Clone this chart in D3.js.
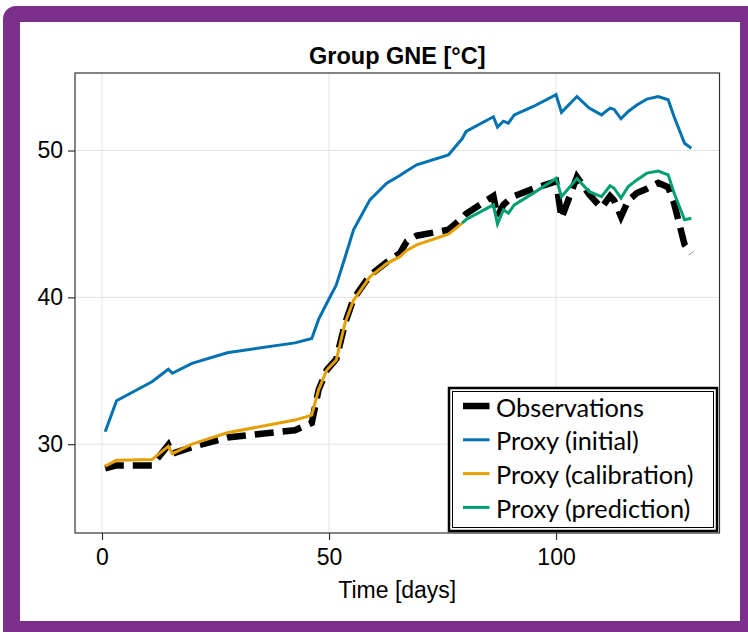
<!DOCTYPE html>
<html>
<head>
<meta charset="utf-8">
<script src="https://cdn.jsdelivr.net/npm/d3@7"></script>
<style>
  html, body { margin: 0; padding: 0; background: #ffffff; }
  svg { display: block; }
</style>
</head>
<body>
<svg id="chart" width="748" height="632"></svg>
<script>
// ---- data ----
const days = [0.7, 3.2, 11.0, 14.6, 15.5, 19.8, 27.6, 42.5, 46.2, 47.7, 49.5, 51.6, 53.5, 55.4, 59.0, 62.7, 65.6, 67.1, 69.3, 76.3, 79.3, 80.2, 86.2, 87.1, 88.4, 89.5, 90.8, 95.0, 100.0, 101.2, 104.6, 107.3, 110.0, 111.9, 112.8, 114.3, 115.9, 117.8, 120.0, 122.5, 124.7, 126.0, 128.3, 129.8];
const observations = [28.35, 28.55, 28.55, 29.95, 29.35, 29.8, 30.45, 30.95, 31.45, 33.7, 35.05, 35.8, 38.2, 39.9, 41.5, 42.4, 43.0, 43.8, 44.2, 44.6, 45.4, 45.7, 46.9, 45.5, 46.3, 46.6, 46.9, 47.4, 47.9, 45.4, 48.2, 47.0, 46.1, 46.9, 46.6, 45.5, 46.6, 47.1, 47.4, 47.8, 47.5, 46.4, 43.6, 43.0];
const proxyInitial = [30.85, 32.96, 34.25, 35.1, 34.83, 35.5, 36.23, 36.9, 37.2, 38.5, 39.6, 40.85, 42.7, 44.6, 46.64, 47.78, 48.3, 48.6, 49.03, 49.7, 50.8, 51.3, 52.3, 51.6, 52.0, 51.87, 52.43, 53.0, 53.8, 52.6, 53.68, 52.89, 52.43, 52.89, 52.8, 52.16, 52.66, 53.1, 53.5, 53.68, 53.46, 52.3, 50.5, 50.16];
const proxyCalibration = [28.5, 28.9, 28.95, 29.85, 29.35, 30.0, 30.78, 31.64, 31.98, 33.7, 35.05, 35.73, 38.23, 39.8, 41.4, 42.3, 42.77, 43.2, 43.57, 44.3, 45.05,
  null, null, null, null, null, null, null, null, null, null, null, null, null, null, null, null, null, null, null, null, null, null, null];
const proxyPrediction = [null, null, null, null, null, null, null, null, null, null, null, null, null, null, null, null, null, null, null, null,
  45.05, 45.3, 46.3, 45.0, 45.96, 45.73, 46.3, 47.1, 48.1, 46.86, 48.1, 47.2, 46.86, 47.6, 47.43, 46.76, 47.55, 48.0, 48.46, 48.6, 48.34, 47.1, 45.28, 45.39];

const xTicks = [0, 50, 100];
const yTicks = [30, 40, 50];
const titleText = "Group GNE [°C]";
const xLabelText = "Time [days]";

const seriesNames = ["Observations", "Proxy (initial)", "Proxy (calibration)", "Proxy (prediction)"];
const seriesColors = ["#000000", "#0072B2", "#E69F00", "#009E73"];
const seriesValues = [observations, proxyInitial, proxyCalibration, proxyPrediction];

// ---- layout ----
const svg = d3.select("#chart");
const plot = { left: 75, right: 719.5, top: 73, bottom: 533 };
const x = d3.scaleLinear().domain([-5.95, 136.0]).range([plot.left, plot.right]);
const y = d3.scaleLinear().domain([23.95, 55.28]).range([plot.bottom, plot.top]);

// purple frame
svg.append("rect").attr("x", 3).attr("y", 6).attr("width", 780).attr("height", 680)
  .attr("rx", 13).attr("fill", "#7b2f8b");
svg.append("rect").attr("x", 20).attr("y", 22).attr("width", 720).attr("height", 599)
  .attr("fill", "#ffffff");

const font = "'Liberation Sans', Arial, Helvetica, sans-serif";

// grid
const g = svg.append("g");
g.selectAll("line.gx").data(xTicks).enter().append("line")
  .attr("x1", d => x(d)).attr("x2", d => x(d))
  .attr("y1", plot.top).attr("y2", plot.bottom)
  .attr("stroke", "#e2e2e2").attr("stroke-width", 1);
g.selectAll("line.gy").data(yTicks).enter().append("line")
  .attr("y1", d => y(d)).attr("y2", d => y(d))
  .attr("x1", plot.left).attr("x2", plot.right)
  .attr("stroke", "#e2e2e2").attr("stroke-width", 1);

// clip
svg.append("clipPath").attr("id", "clip").append("rect")
  .attr("x", plot.left).attr("y", plot.top)
  .attr("width", plot.right - plot.left).attr("height", plot.bottom - plot.top);

const lines = svg.append("g").attr("clip-path", "url(#clip)");
seriesValues.forEach((vals, i) => {
  const line = d3.line()
    .defined(d => d[1] !== null)
    .x(d => x(d[0])).y(d => y(d[1]));
  const pts = days.map((d, k) => [d, vals[k]]);
  const p = lines.append("path").datum(pts)
    .attr("d", line)
    .attr("fill", "none")
    .attr("stroke", seriesColors[i])
    .attr("stroke-linejoin", "miter")
    .attr("stroke-linecap", "butt");
  if (i === 0) {
    p.attr("stroke-width", 6.5).attr("stroke-dasharray", "19,9");
  } else {
    p.attr("stroke-width", 3);
  }
});

// axes frame
svg.append("rect").attr("x", plot.left).attr("y", plot.top)
  .attr("width", plot.right - plot.left).attr("height", plot.bottom - plot.top)
  .attr("fill", "none").attr("stroke", "#333333").attr("stroke-width", 1.2);

const xAxis = d3.axisBottom(x).tickValues(xTicks).tickSize(7).tickPadding(9).tickFormat(d3.format("d"));
const yAxis = d3.axisLeft(y).tickValues(yTicks).tickSize(7).tickPadding(5).tickFormat(d3.format("d"));

const gx = svg.append("g").attr("transform", `translate(0,${plot.bottom})`).call(xAxis);
const gy = svg.append("g").attr("transform", `translate(${plot.left},0)`).call(yAxis);
[gx, gy].forEach(a => {
  a.select(".domain").remove();
  a.selectAll(".tick line").attr("stroke", "#333333").attr("stroke-width", 1.2);
  a.selectAll(".tick text").attr("fill", "#000").style("font-family", font).style("font-size", "23px");
});

// title
svg.append("text").attr("x", (plot.left + plot.right) / 2).attr("y", 64)
  .attr("text-anchor", "middle").style("font-family", font).style("font-weight", "bold")
  .style("font-size", "23.5px").text(titleText);

// x label
svg.append("text").attr("x", (plot.left + plot.right) / 2).attr("y", 598)
  .attr("text-anchor", "middle").style("font-family", font)
  .style("font-size", "23px").text(xLabelText);

// legend
const leg = svg.append("g");
const lb = { x: 449, y: 388, w: 268, h: 143 };
leg.append("rect").attr("x", lb.x).attr("y", lb.y).attr("width", lb.w).attr("height", lb.h)
  .attr("fill", "#ffffff").attr("stroke", "#000").attr("stroke-width", 2.5);
leg.append("rect").attr("x", lb.x + 3.5).attr("y", lb.y + 3.5).attr("width", lb.w - 7).attr("height", lb.h - 7)
  .attr("fill", "none").attr("stroke", "#000").attr("stroke-width", 1);

const legFont = "Lato, 'Open Sans', sans-serif";
seriesNames.forEach((name, i) => {
  const cy = 406 + i * 33.8;
  leg.append("line").attr("x1", 463).attr("x2", 489.5).attr("y1", cy).attr("y2", cy)
    .attr("stroke", seriesColors[i]).attr("stroke-width", i === 0 ? 6.5 : 3);
  leg.append("text").attr("x", 496).attr("y", cy + 10.5)
    .style("font-family", legFont).style("font-size", "23px").attr("fill", "#000")
    .attr("class", "legtxt").text(name);
});
// scale legend text so "Observations" spans about 148px as in the reference
const t0 = leg.select(".legtxt").node();
const w0 = t0.getComputedTextLength();
const fs = 23 * 148 / w0;
leg.selectAll(".legtxt").style("font-size", fs + "px");
</script>
</body>
</html>
